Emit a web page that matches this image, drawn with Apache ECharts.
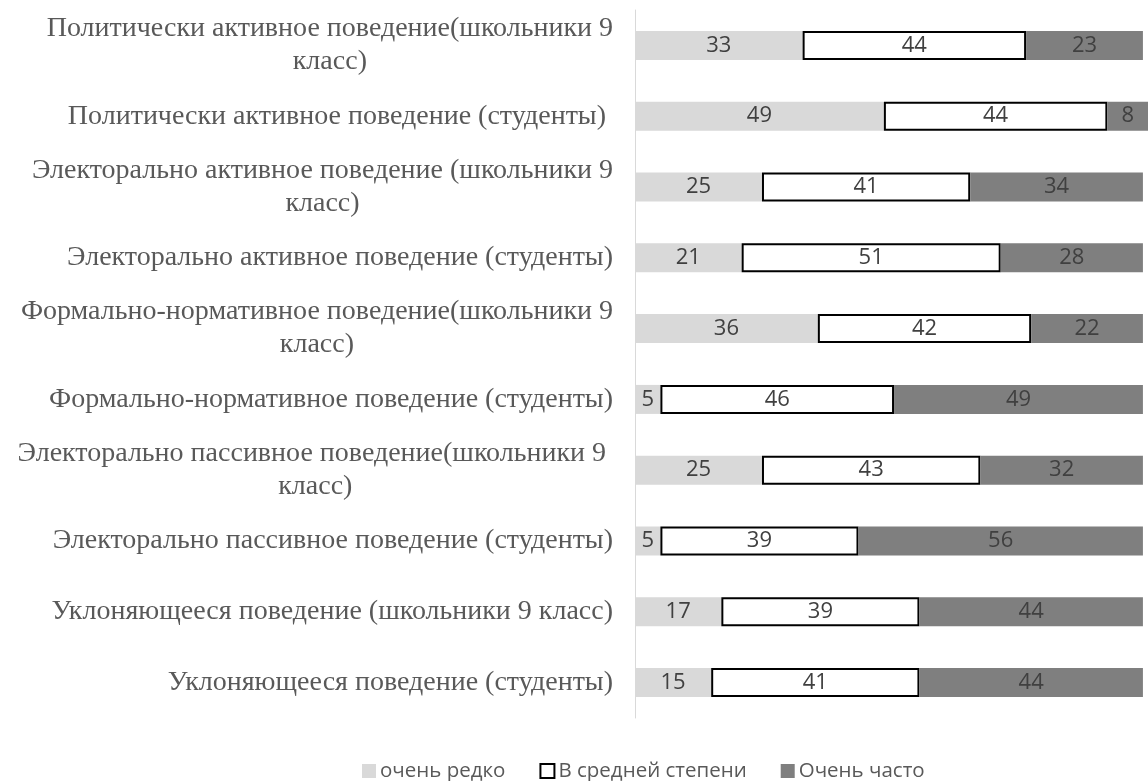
<!DOCTYPE html>
<html>
<head>
<meta charset="utf-8">
<script src="https://cdn.jsdelivr.net/npm/echarts@6/dist/echarts.min.js"></script>
<style>html,body{margin:0;padding:0;background:#fff}#c{width:1148px;height:781px}</style>
</head>
<body>
<div id="c"></div>
<script>
const categories = [
  "Политически активное поведение(школьники 9\nкласс)",
  "Политически активное поведение (студенты) ",
  "Электорально активное поведение (школьники 9\nкласс)",
  "Электорально активное поведение (студенты)",
  "Формально-нормативное поведение(школьники 9\nкласс)",
  "Формально-нормативное поведение (студенты)",
  "Электорально пассивное поведение(школьники 9 \nкласс)",
  "Электорально пассивное поведение (студенты)",
  "Уклоняющееся поведение (школьники 9 класс)",
  "Уклоняющееся поведение (студенты)"
];
const seriesNames = ["очень редко", "В средней степени", "Очень часто"];
const rarely = [33, 49, 25, 21, 36, 5, 25, 5, 17, 15];
const medium = [44, 44, 41, 51, 42, 46, 43, 39, 39, 41];
const often  = [23, 8, 34, 28, 22, 49, 32, 56, 44, 44];

const labelFont = {fontFamily: "Liberation Serif", fontSize: 28, color: "#595959"};
const dataLabel = {show: true, position: "inside", color: "#404040", fontFamily: "Open Sans", fontSize: 22};

const chart = echarts.init(document.getElementById("c"), null, {renderer: "canvas"});
chart.setOption({
  animation: false,
  backgroundColor: "#fff",
  grid: {left: 635, right: 0, top: 10, height: 708, containLabel: false},
  xAxis: {type: "value", min: 0, max: 101, show: false},
  yAxis: {
    type: "category", inverse: true, data: categories,
    axisLine: {show: true, lineStyle: {color: "#d9d9d9", width: 1}},
    axisTick: {show: false},
    splitLine: {show: false},
    axisLabel: {
      margin: 22, align: "right", lineHeight: 33,
      fontFamily: labelFont.fontFamily, fontSize: labelFont.fontSize, color: labelFont.color,
      formatter: function (v) {
        const parts = v.split("\n");
        if (parts.length > 1) return "{a|" + parts[0] + "}\n{c|" + parts[1] + "}";
        return "{a|" + v + "}";
      },
      rich: {
        a: {fontFamily: labelFont.fontFamily, fontSize: labelFont.fontSize, color: labelFont.color, lineHeight: 33, align: "right"},
        c: {fontFamily: labelFont.fontFamily, fontSize: labelFont.fontSize, color: labelFont.color, lineHeight: 33, align: "center"}
      }
    }
  },
  legend: {
    left: 357, top: 754, itemWidth: 14, itemHeight: 14, itemGap: 34,
    icon: "rect",
    textStyle: {fontFamily: "Open Sans", fontSize: 20.5, lineHeight: 24, color: "#595959", padding: [0, 0, 0, -1]},
    data: seriesNames
  },
  series: [
    {name: seriesNames[0], type: "bar", stack: "t", barWidth: 29, data: rarely,
     itemStyle: {color: "#d9d9d9"}, label: dataLabel},
    {name: seriesNames[1], type: "bar", stack: "t", barWidth: 29, data: medium,
     itemStyle: {color: "#ffffff", borderColor: "#000000", borderWidth: 2}, label: dataLabel},
    {name: seriesNames[2], type: "bar", stack: "t", barWidth: 29, data: often,
     itemStyle: {color: "#7f7f7f"}, label: dataLabel}
  ]
});
</script>
</body>
</html>
